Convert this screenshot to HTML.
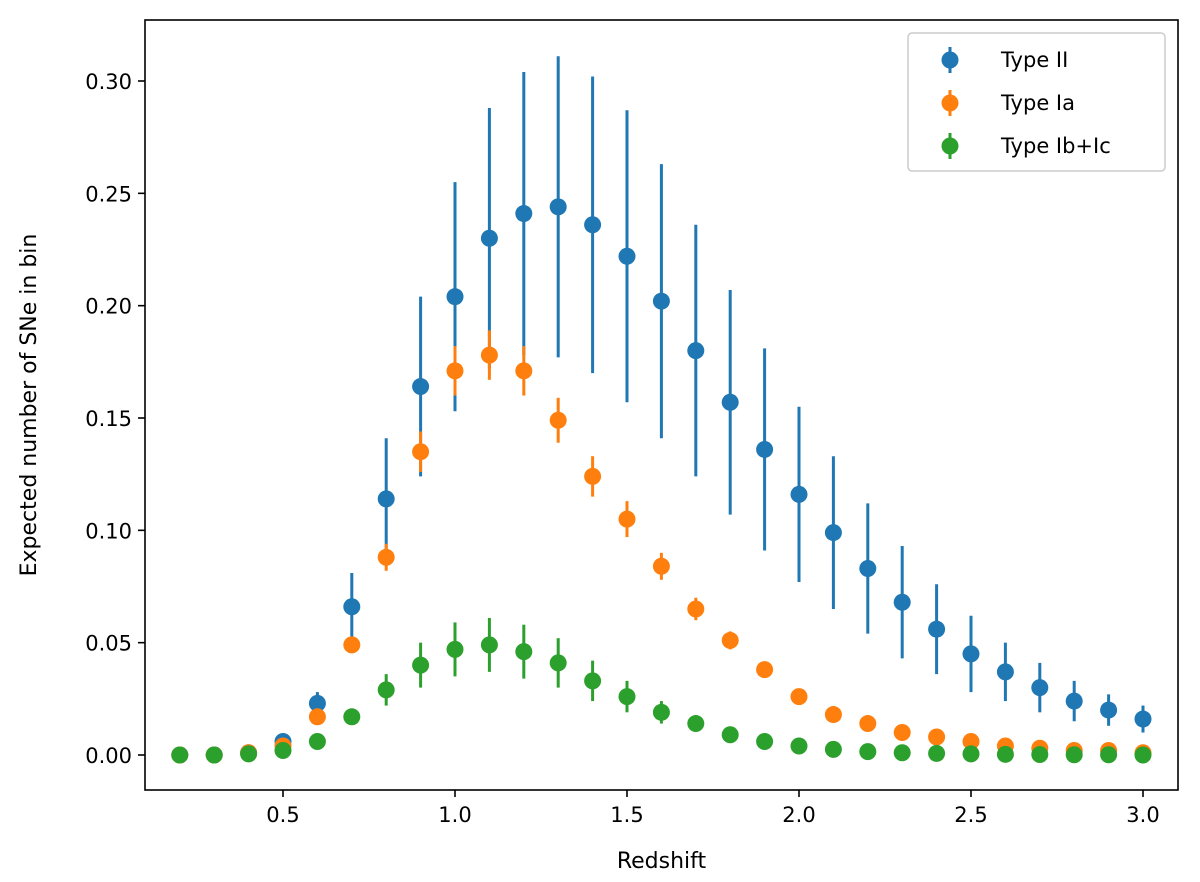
<!DOCTYPE html>
<html><head><meta charset="utf-8"><style>
body{margin:0;background:#fff;}
svg text{font-family:"DejaVu Sans","Liberation Sans",sans-serif;fill:#000;}
</style></head><body>
<svg id="chart" width="1200" height="877" xmlns="http://www.w3.org/2000/svg">
<rect x="0" y="0" width="1200" height="877" fill="#fff"/>
<g id="marks"></g>
<g id="axes"></g>
</svg>
<script>
const redshifts=[0.2,0.3,0.4,0.5,0.6,0.7,0.8,0.9,1.0,1.1,1.2,1.3,1.4,1.5,1.6,1.7,1.8,1.9,2.0,2.1,2.2,2.3,2.4,2.5,2.6,2.7,2.8,2.9,3.0];
const typeII=[0,0,0.001,0.006,0.023,0.066,0.114,0.164,0.204,0.230,0.241,0.244,0.236,0.222,0.202,0.180,0.157,0.136,0.116,0.099,0.083,0.068,0.056,0.045,0.037,0.030,0.024,0.020,0.016];
const typeIIErr=[0,0,0.0005,0.002,0.005,0.015,0.027,0.040,0.051,0.058,0.063,0.067,0.066,0.065,0.061,0.056,0.050,0.045,0.039,0.034,0.029,0.025,0.020,0.017,0.013,0.011,0.009,0.007,0.006];
const typeIa=[0,0,0.001,0.004,0.017,0.049,0.088,0.135,0.171,0.178,0.171,0.149,0.124,0.105,0.084,0.065,0.051,0.038,0.026,0.018,0.014,0.010,0.008,0.006,0.004,0.003,0.002,0.002,0.001];
const typeIaErr=[0,0,0.0003,0.001,0.002,0.003,0.006,0.009,0.011,0.011,0.011,0.010,0.009,0.008,0.006,0.005,0.004,0.003,0.002,0.0015,0.001,0.001,0.0007,0.0005,0.0004,0.0003,0.0002,0.0002,0.0001];
const typeIbc=[0,0,0.0005,0.002,0.006,0.017,0.029,0.040,0.047,0.049,0.046,0.041,0.033,0.026,0.019,0.014,0.009,0.006,0.004,0.0025,0.0015,0.001,0.0007,0.0005,0.0003,0.0002,0.0001,0.0001,0];
const typeIbcErr=[0,0,0.0003,0.001,0.002,0.003,0.007,0.010,0.012,0.012,0.012,0.011,0.009,0.007,0.005,0.003,0.002,0.0015,0.001,0.0007,0.0005,0.0003,0.0002,0.0001,0.0001,0,0,0,0];
const xTicks=[0.5,1.0,1.5,2.0,2.5,3.0];
const xTickLabels=["0.5","1.0","1.5","2.0","2.5","3.0"];
const yTicks=[0,0.05,0.10,0.15,0.20,0.25,0.30];
const yTickLabels=["0.00","0.05","0.10","0.15","0.20","0.25","0.30"];
const seriesNames=["Type II","Type Ia","Type Ib+Ic"];

const L=145,R=1178,T=20,B=790;
const xs=z=>283+(z-0.5)*344;
const ys=v=>755-v*(674/0.30);
const NS="http://www.w3.org/2000/svg";
function mk(tag,attrs,parent){const e=document.createElementNS(NS,tag);for(const k in attrs)e.setAttribute(k,attrs[k]);parent.appendChild(e);return e;}
const marks=document.getElementById('marks'),axes=document.getElementById('axes');
const series=[[typeII,typeIIErr,'#1f77b4','type-ii'],[typeIa,typeIaErr,'#ff7f0e','type-ia'],[typeIbc,typeIbcErr,'#2ca02c','type-ib-ic']];
series.forEach(([vals,errs,col,nm])=>{
  const g=mk('g',{},marks);
  
  
  redshifts.forEach((z,i)=>{
    const x=xs(z);
    const eb=mk('line',{x1:x,x2:x,y1:ys(vals[i]-errs[i]),y2:ys(vals[i]+errs[i]),stroke:col,'stroke-width':3},g);
    
    
    const c=mk('circle',{cx:x,cy:ys(vals[i]),r:8.5,fill:col},g);
    
    
  });
});
const frame=mk('rect',{x:L,y:T,width:R-L,height:B-T,fill:'none',stroke:'#000','stroke-width':1.6},axes);


xTicks.forEach((t,i)=>{
  const x=xs(t);
  const tk=mk('line',{x1:x,x2:x,y1:B,y2:B+7,stroke:'#000','stroke-width':1.6},axes);
  
  
  const tx=mk('text',{x:x,y:B+32,'font-size':21,'text-anchor':'middle'},axes);
  tx.textContent=xTickLabels[i];
  
  
});
yTicks.forEach((t,i)=>{
  const y=ys(t);
  const tk=mk('line',{x1:L-7,x2:L,y1:y,y2:y,stroke:'#000','stroke-width':1.6},axes);
  
  
  const tx=mk('text',{x:L-13,y:y+8,'font-size':21,'text-anchor':'end'},axes);
  tx.textContent=yTickLabels[i];
  
  
});
const xt=mk('text',{x:(L+R)/2,y:868,'font-size':22,'text-anchor':'middle'},axes);
xt.textContent='Redshift';


const yt=mk('text',{x:0,y:0,'font-size':22,'text-anchor':'middle',transform:'translate(36,405) rotate(-90)'},axes);
yt.textContent='Expected number of SNe in bin';


const lg=mk('g',{},axes);


mk('rect',{x:908,y:33,width:257,height:138,rx:4,fill:'#fff',stroke:'#ccc','stroke-width':1.5},lg);
series.forEach(([v,e,col,nm],i)=>{
  const y=60+i*43;
  const en=mk('g',{},lg);
  
  
  mk('line',{x1:950,x2:950,y1:y-13,y2:y+13,stroke:col,'stroke-width':3},en);
  mk('circle',{cx:950,cy:y,r:8.5,fill:col},en);
  const t=mk('text',{x:1001,y:y+7,'font-size':21},en);
  t.textContent=seriesNames[i];
});
</script>
</body></html>
